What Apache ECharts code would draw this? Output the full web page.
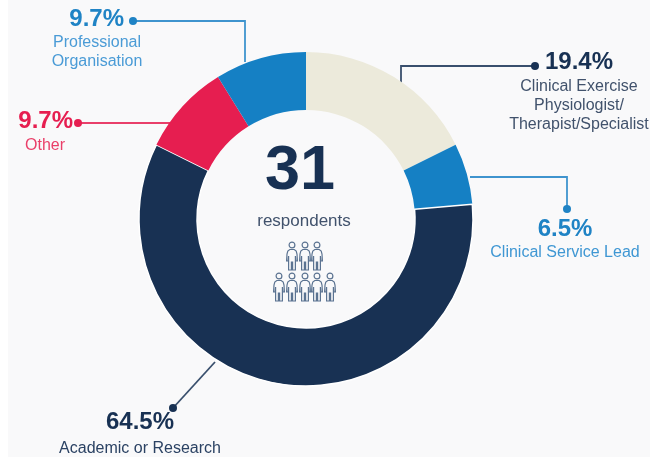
<!DOCTYPE html>
<html>
<head>
<meta charset="utf-8">
<script src="https://cdn.jsdelivr.net/npm/echarts@6/dist/echarts.min.js"></script>
<style>
  html, body { margin: 0; padding: 0; }
  body { background: linear-gradient(to right, #fff 8px, #f9f9fa 8px); }
  #main { width: 650px; height: 457px; }
</style>
</head>
<body>
<div id="main"></div>
<script>
// clockwise from 12 o'clock. shares sum to 110% (respondents could pick more than one)
var categories = ['Clinical Exercise\nPhysiologist/\nTherapist/Specialist', 'Clinical Service Lead', 'Academic or Research', 'Other', 'Professional\nOrganisation'];
var shares = [19.4, 6.5, 64.5, 9.7, 9.7];
var sliceColors = ['#eceadb', '#1580c4', '#183153', '#e61e50', '#1580c4'];
var respondents = 31;

var FONT = '"Liberation Sans", Arial, sans-serif';
var NAVY = '#183153', BLUE = '#1f83c5', RED = '#e61e50';

// callouts, same order as categories
var callouts = [
  { pct: [579, 62], name: [579, 77], align: 'center', color: NAVY, nameColor: '#41526c', line: [[401, 83], [401, 66], [535, 66]], dot: [535, 66] },
  { pct: [565, 229], name: [565, 243], align: 'center', color: BLUE, nameColor: '#3f97d3', line: [[470, 177], [567, 177], [567, 209]], dot: [567, 209] },
  { pct: [140, 422], name: [140, 439], align: 'center', color: NAVY, nameColor: '#2b4263', line: [[215, 362], [173, 408]], dot: [173, 408] },
  { pct: [73, 121], name: [45, 136], align: 'right', nameAlign: 'center', color: RED, nameColor: '#ea3f69', line: [[78, 123], [170, 123]], dot: [78, 123] },
  { pct: [124, 19], name: [97, 33], align: 'right', nameAlign: 'center', color: BLUE, nameColor: '#4a9bd6', line: [[133, 21], [245, 21], [245, 62]], dot: [133, 21] }
];

var graphics = [];
callouts.forEach(function (c, i) {
  graphics.push({ type: 'polyline', shape: { points: c.line }, style: { stroke: c.color, lineWidth: 1.8, fill: null, opacity: 0.85 } });
  graphics.push({ type: 'circle', shape: { cx: c.dot[0], cy: c.dot[1], r: 4 }, style: { fill: c.color } });
  graphics.push({ type: 'text', x: c.pct[0], y: c.pct[1], style: {
    text: shares[i].toFixed(1) + '%', fill: c.color, font: 'bold 24px ' + FONT,
    textAlign: c.align, textVerticalAlign: 'middle' } });
  graphics.push({ type: 'text', x: c.name[0], y: c.name[1], style: {
    text: categories[i], fill: c.nameColor, font: '16px ' + FONT, lineHeight: 19,
    textAlign: c.nameAlign || c.align, textVerticalAlign: 'top' } });
});

// centre text
graphics.push({ type: 'text', x: 300, y: 172, style: { text: String(respondents), fill: NAVY, font: 'bold 63px ' + FONT, textAlign: 'center', textVerticalAlign: 'middle' } });
graphics.push({ type: 'text', x: 304, y: 221, style: { text: 'respondents', fill: '#41526c', font: '17px ' + FONT, textAlign: 'center', textVerticalAlign: 'middle' } });

// little people icons
var personBody = [[-2.2, 7.5], [2.2, 7.5], [4.2, 9], [5, 12], [5.4, 19], [3.9, 19], [3.4, 14], [3.4, 28], [0.6, 28], [0.6, 20], [-0.6, 20], [-0.6, 28], [-3.4, 28], [-3.4, 14], [-3.9, 19], [-5.4, 19], [-5, 12], [-4.2, 9]];
function person(x, y) {
  var c = '#5b7391';
  return { type: 'group', x: x, y: y, children: [
    { type: 'circle', shape: { cx: 0, cy: 3, r: 2.9 }, style: { fill: 'none', stroke: c, lineWidth: 1.2 } },
    { type: 'polygon', shape: { points: personBody }, style: { fill: 'none', stroke: c, lineWidth: 1.2 } }
  ] };
}
[[292, 242], [305, 242], [317, 242], [279, 273], [292, 273], [305, 273], [317, 273], [330, 273]].forEach(function (p) {
  graphics.push(person(p[0], p[1]));
});

var chart = echarts.init(document.getElementById('main'));
chart.setOption({
  animation: false,
  graphic: graphics,
  series: [{
    type: 'pie',
    center: [306, 219],
    radius: [109, 167],
    startAngle: 90,
    clockwise: true,
    silent: true,
    label: { show: false },
    labelLine: { show: false },
    data: shares.map(function (v, i) {
      return {
        value: v,
        name: categories[i],
        itemStyle: { color: sliceColors[i], borderColor: i === 2 ? '#fff' : 'transparent', borderWidth: i === 2 ? 1.5 : 0 }
      };
    })
  }]
});
</script>
</body>
</html>
